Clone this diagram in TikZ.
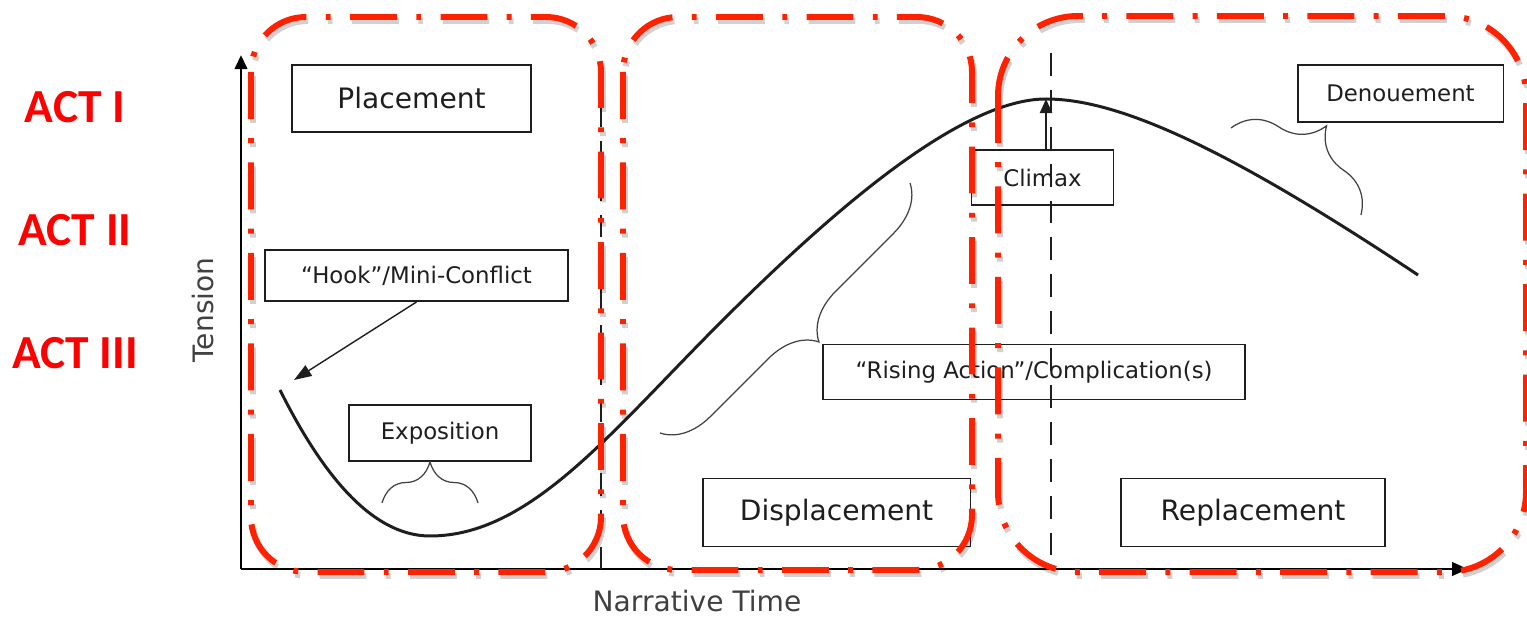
\documentclass[tikz,border=0pt]{standalone}
\usepackage{fontspec}
\setmainfont{DejaVu Sans}
\newfontfamily\actfont{Carlito}
\usepackage{xcolor}
\usetikzlibrary{arrows.meta, decorations.pathreplacing}

\definecolor{actred}{RGB}{255,0,0}
\definecolor{zonered}{RGB}{255,34,0}
\definecolor{ink}{RGB}{30,30,30}

\tikzset{
    stage/.style={draw=ink, line width=1.1pt, inner sep=0pt, text=ink, font=\fontsize{16}{18}\selectfont},
    tag/.style={stage, font=\fontsize{13}{15}\selectfont},
    act/.style={text=actred, font=\actfont\bfseries\fontsize{27}{30}\selectfont, inner sep=0pt},
    axislabel/.style={text=ink!85, font=\fontsize{16}{18}\selectfont, inner sep=0pt},
    zone/.style={draw=zonered, line width=3.4pt, dash pattern=on 26.7pt off 11pt on 2.8pt off 11pt},
    zoneshadow/.style={zone, draw=black, opacity=0.18},
    curly/.style={decorate, decoration={brace, amplitude=#1}, line width=0.7pt, draw=ink!85},
    guide/.style={draw=ink, line width=0.8pt, dash pattern=on 13pt off 8pt},
}

\begin{document}
\begin{tikzpicture}[x=0.02cm, y=-0.02cm]
    \useasboundingbox (0,0) rectangle (1527,617);

    % Axes
    \coordinate (origin) at (241,569);
    \coordinate (ytop) at (241,55);
    \coordinate (xend) at (1468,569);
    \draw[line width=1.7pt, -{Triangle[length=8pt, width=7pt]}] (origin) -- (ytop);
    \draw[line width=1.7pt, -{Triangle[length=9pt, width=7.5pt]}] (origin) -- (xend);
    \node[axislabel, rotate=90] (tension) at (203,310) {Tension};
    \node[axislabel] (time) at (697,601) {Narrative Time};

    % Act labels on the left
    \foreach \act/\y in {I/107, II/230, III/353} {
        \node[act] (act\act) at (75,\y) {ACT \act};
    }

    % Phase boundaries
    \draw[guide] (601,67) -- (601,569);
    \draw[guide] (1051,53) -- (1051,569);

    % Tension over time: dip, climb, peak, fall
    \coordinate (start) at (280,390);
    \coordinate (low) at (430,536);
    \coordinate (rise) at (720,323);
    \coordinate (peak) at (1046,99);
    \coordinate (finish) at (1418,275);
    \draw[line width=1.7pt, ink] (start) .. controls (320,470) and (370,536) .. (low)
        .. controls (530,536) and (610,433) .. (rise)
        .. controls (830,213) and (960,99) .. (peak)
        .. controls (1120,99) and (1230,150) .. (finish);

    % Labelled boxes
    \node[stage, minimum width=4.78cm, minimum height=1.34cm] (placement) at (411.5,98.5) {Placement};
    \node[stage, minimum width=5.36cm, minimum height=1.36cm] (displacement) at (836.5,512.5) {Displacement};
    \node[stage, minimum width=5.28cm, minimum height=1.36cm] (replacement) at (1253,512.5) {Replacement};
    \node[tag, minimum width=6.06cm, minimum height=1.02cm] (hook) at (416.5,275.5) {“Hook”/Mini-Conflict};
    \node[tag, minimum width=3.64cm, minimum height=1.12cm] (exposition) at (440,433) {Exposition};
    \node[tag, minimum width=2.84cm, minimum height=1.1cm] (climax) at (1042.5,177.5) {Climax};
    \node[tag, minimum width=8.44cm, minimum height=1.1cm] (rising) at (1034,372) {“Rising Action”/Complication(s)};
    \node[tag, minimum width=4.12cm, minimum height=1.14cm] (denouement) at (1400.5,93.5) {Denouement};

    % Braces under the labels
    \draw[curly=0.82cm] (382,503) -- (478,503);
    \draw[curly=0.96cm] (910,183) -- (660,433);
    \draw[curly=1.1cm] (1231,128) -- (1361,215);

    % Pointers
    \coordinate (hooktip) at (294,380);
    \draw[line width=0.8pt, ink, -{Triangle[length=10pt, width=7pt]}] (hook.south) -- (hooktip);
    \draw[line width=0.8pt, ink, -{Triangle[length=8pt, width=7pt]}] (climax.north -| peak) -- (peak);

    % The three acts
    \foreach \xa/\ya/\xb/\yb/\rad in {251/17/601/572/1.1cm, 623/17/972/570/1.1cm, 998/16/1526/572/1.6cm} {
        \draw[zoneshadow, rounded corners=\rad, shift={(2,4)}] (\xa,\ya) rectangle (\xb,\yb);
        \draw[zone, rounded corners=\rad] (\xa,\ya) rectangle (\xb,\yb);
    }
\end{tikzpicture}
\end{document}
